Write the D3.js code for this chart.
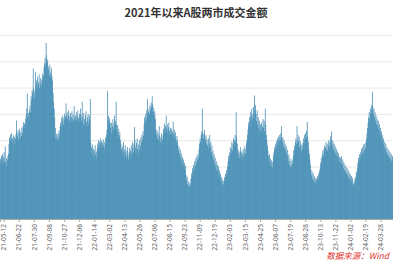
<!DOCTYPE html>
<html>
<head>
<meta charset="utf-8">
<script src="https://cdn.jsdelivr.net/npm/d3@7/dist/d3.min.js"></script>
<style>
  body { margin: 0; background: #fff; }
  svg { display: block; }
</style>
</head>
<body>
<div id="grafico"></div>
<script>
//Datos: montos diarios (亿元)
var titulo = "2021年以来A股两市成交金额";
var fuente = "数据来源：Wind";
var etiquetas = ["21-05-12", "21-06-22", "21-07-30", "21-09-08", "21-10-27", "21-12-06", "22-01-14",
    "22-03-02", "22-04-13", "22-05-26", "22-07-06", "22-08-15", "22-09-23", "22-11-09", "22-12-19",
    "23-02-03", "23-03-15", "23-04-25", "23-06-07", "23-07-19", "23-08-28", "23-10-13", "23-11-22",
    "24-01-02", "24-02-19", "24-03-28"];
var primerTick = 7, pasoTick = 28;
var ticksY = [5000, 6500, 8000, 9500, 11000, 12500, 14000, 15500];

var montos = [
    8450, 8210, 8620, 8380, 8700, 8150, 8540, 8820, 8300, 9150,
    8260, 8480, 8050, 8390, 8610, 8720,
    9280, 9650, 9420, 9810, 9550, 9900, 9370, 9620, 9780, 9450, 9690, 9210, 9580,
    9850, 10620, 9940, 9700, 10080, 9520, 9880, 10150, 9630, 9960, 9740, 10210, 9890,
    10300, 10520, 10180, 10460, 10390,
    10700, 10950, 11300, 12150, 10820, 11050, 10640, 11240, 11480, 11100,
    12010, 11800, 12350, 12200, 13580, 12460, 11920, 12280, 13400,
    12640, 12900, 12380, 13120, 12550, 12800, 13250, 12470, 12720, 13050, 12600, 12950, 13300, 12850, 13180,
    13650, 13900, 14200, 13780, 15050, 14350, 13950, 14100, 13700,
    13500, 13200, 13800, 13350, 13050, 13600, 13150, 12900,
    12200, 11700, 11300, 10800, 10200,
    9600, 9850, 9450, 9700, 9900, 9550, 10050, 9800, 10300,
    10500, 10250, 10800, 10600, 10900, 10400, 10750, 11000, 10650, 10850,
    11600, 10900, 11100, 10700, 10950, 11200, 10600, 10850, 11050, 10500, 10800, 11150, 10700, 10950, 10550, 11450, 10800, 10650,
    10900, 11100, 10600, 10850, 11200, 10750, 10500, 11000, 10800, 11300,
    10950, 10600, 11700, 10800, 10400, 11050, 10700, 10300, 10900, 11150, 10550, 10250, 10800, 11000, 10450, 10700, 10900, 11850,
    9400, 9100, 8800, 9250, 8650, 9000, 8500, 8900, 9200, 8700, 8450, 8850, 9050,
    9300, 9500, 9150, 9400, 9050, 9600, 9250, 9450, 9100, 9350, 9550, 9200, 9000, 9400, 9650, 9300, 9800, 10100, 12300,
    10600, 10900, 10400, 10750, 10500,
    10200, 10500, 9900, 10300, 10700, 10100, 10450, 10900, 10250, 10600, 11700, 10400, 10000, 10350, 9800, 10150, 9700, 9950, 9500,
    9300, 9000, 8700, 9150, 8850, 9400, 8600, 8950, 9200, 8750, 8500, 8900, 9100, 8650, 8400, 8800, 9050, 8550,
    8900, 9200, 8700, 9400, 9050, 8800, 9300, 10250, 9500, 9100, 8850, 9350, 9600, 9000, 8750, 9250, 9500, 8950, 9150, 9650, 9400, 9800, 9550, 10000, 9750,
    10400, 10800, 10550, 11000, 10700, 11200, 11850, 10900, 11100,
    11300, 11000, 11500, 11200, 11650, 11400, 12000, 11550, 11100, 11350, 10900, 11150, 10700,
    10100, 9800, 10050, 9600, 9900, 9500, 10300, 9750, 9400, 9650, 9900, 9300, 9550, 9800, 10100,
    10200, 10450, 9900, 10300, 10900, 10150, 10400, 9950, 10250, 10500, 10050, 9800, 10200,
    9900, 10150, 9750, 10000, 10550, 9850, 10100, 9700, 9950, 9600, 9400, 9750, 9500,
    9200, 8900, 9100, 8700, 8950, 8500, 8750, 8300, 8550, 8100, 8400, 7950, 8200, 7800, 8050,
    7500, 7200, 7400, 7000, 6900, 7150, 6850, 7050, 6950,
    7300, 7600, 7400, 7900, 7700, 8100, 7850, 8300, 8000, 8450, 8200, 8600, 8350, 8700, 8500,
    9000, 9300, 9600, 9400, 9800, 10000, 11300, 9900, 9600, 9850, 10100, 9700, 9500, 9800, 9300, 9550, 9200, 9000,
    9600, 9300, 9800, 9100, 9400, 8800, 9200, 8600, 8900, 8400, 8700, 8200, 8500, 8000, 8300, 7800, 8100,
    7700, 8000, 7500, 7800, 7300, 7600, 7100, 7400, 7000, 7250, 6950, 7150, 7400, 7200, 7600, 7350, 7800, 7550, 8000,
    8300, 8600, 8400, 8800, 9100, 8700, 9000, 9400, 8900, 9300, 9600, 9200, 9500, 9800, 9400, 11100, 9700, 9300,
    9000, 8700, 8900, 8500, 8800, 9100, 8600, 8850, 8400, 8750, 9000, 8550, 8800, 9150, 8700, 9000, 9300, 9500, 9800,
    10100, 10500, 10300, 10800, 10600, 11100, 10900, 11300, 10700, 11000, 11400, 10800, 12050, 11200, 11500,
    11000, 10600, 11200, 10400, 10800, 10200, 10600, 10000, 10400,
    10100, 10500, 9900, 10300, 10700, 10200, 10600, 10000, 11300, 10400, 9800, 9500, 9200,
    8900, 8600, 8300, 8700, 8100, 8450, 8000, 8350, 7900, 8250, 8600,
    8800, 9100, 8900, 9300, 9000, 9450, 9200, 9600, 9350, 9700, 9500, 9800, 9550, 9900, 10300, 9700, 9400, 9650, 9200, 9500, 9050, 9300, 8900, 9150, 8700, 8950,
    8600, 8300, 8700, 8100, 8450, 7950, 8300, 8000, 8400, 8150, 8600,
    8900, 9200, 9000, 9400, 9600, 9300, 10300, 9500, 9800, 9400, 9700, 9100, 9450, 9200, 8900, 9250, 9000, 9350, 9600, 9300, 9800, 9500, 9900, 9600, 10050, 10550, 9700, 9400, 9000, 8700, 8400, 8100,
    7800, 7500, 7700, 7300, 7600, 7200, 7450, 7100, 7350, 7050, 7300, 7150, 7450, 7250, 7600, 7400, 7750, 7900,
    8200, 8500, 8300, 8700, 8900, 8600, 9000, 9200, 8800, 9100, 9400, 9000, 9300, 8900, 9200, 9500, 9100, 9400, 9700, 9300,
    10000, 9500, 9200, 9450, 9000, 9300, 8850, 9150, 8700, 9000, 8600, 8850, 8450, 8750, 8300, 8550, 8200,
    8500, 8200, 8600, 8100, 8400, 7900, 8250, 7800, 8100, 7700, 8000, 7600, 7900, 7500, 7800, 7400, 7650, 7300, 7550, 7200,
    7450, 7100, 7350, 7000, 6950, 7200, 7050, 7400, 7300, 7700, 7550, 7900,
    8200, 8500, 8300, 8700, 8400, 8800, 8600, 9000, 8700, 9100, 8800, 9250, 8900, 9300, 9050, 9400, 9600, 9900, 10200,
    10500, 10800, 11100, 10700, 11300, 11000, 11500, 11200, 12250, 11400, 11000, 11300, 10800, 11100, 10600, 10900, 10400, 10700,
    10300, 10600, 10100, 10400, 9900, 10200, 9700, 10000, 9500, 9800, 9300, 9600, 9100, 9400, 9000, 9300, 8800, 9100, 8700, 9000,
    8600, 8900, 8500, 8800, 8400, 8700, 8300, 8600, 8500
];

var ancho = 393, alto = 267;
var svg = d3.select("#grafico").append("svg")
    .attr("width", ancho)
    .attr("height", alto);

var x = d3.scaleBand()
    .domain(d3.range(montos.length))
    .range([0, ancho])
    .paddingInner(0);

var y = d3.scaleLinear()
    .domain([ticksY[0], ticksY[ticksY.length - 1]])
    .range([219, 35]);

//Grilla
svg.append("g")
    .selectAll("line")
    .data(ticksY.slice(1))
    .enter().append("line")
    .attr("x1", 0)
    .attr("x2", ancho)
    .attr("y1", function(d) { return y(d) + 0.5; })
    .attr("y2", function(d) { return y(d) + 0.5; })
    .attr("stroke", "#e8e8e8")
    .attr("stroke-width", 1);

//Barras (un poco solapadas para que no se aclaren)
svg.append("g")
    .selectAll("rect")
    .data(montos)
    .enter().append("rect")
    .attr("x", function(d, i) { return x(i); })
    .attr("y", function(d) { return y(d); })
    .attr("width", x.bandwidth() * 1.35)
    .attr("height", function(d) { return y(ticksY[0]) - y(d); })
    .attr("fill", "#3a87b0");

//Eje x con etiquetas giradas
var idxTicks = etiquetas.map(function(d, i) { return primerTick + i * pasoTick; });
var eje = svg.append("g")
    .attr("transform", "translate(0," + y(ticksY[0]) + ")")
    .call(d3.axisBottom(x)
        .tickValues(idxTicks)
        .tickSize(3)
        .tickFormat(function(d, i) { return etiquetas[i]; }));

eje.select(".domain").attr("stroke", "#aaa");
eje.selectAll(".tick line").attr("stroke", "#aaa");
eje.selectAll(".tick text")
    .attr("font-family", "Noto Sans, sans-serif")
    .attr("font-size", 6.5)
    .attr("fill", "#666")
    .attr("text-anchor", "end")
    .attr("transform", "rotate(-90)")
    .attr("x", -5)
    .attr("y", 0)
    .attr("dy", "0.32em");

//Titulo
svg.append("text")
    .attr("x", 196)
    .attr("y", 17)
    .attr("text-anchor", "middle")
    .attr("font-family", "Noto Sans CJK SC, sans-serif")
    .attr("font-size", 11)
    .attr("font-weight", "bold")
    .attr("fill", "#333")
    .text(titulo);

//Fuente
svg.append("text")
    .attr("x", 389)
    .attr("y", 259)
    .attr("text-anchor", "end")
    .attr("font-family", "Noto Sans CJK SC, sans-serif")
    .attr("font-size", 8.5)
    .attr("font-style", "italic")
    .attr("fill", "#e0302c")
    .text(fuente);
</script>
</body>
</html>
